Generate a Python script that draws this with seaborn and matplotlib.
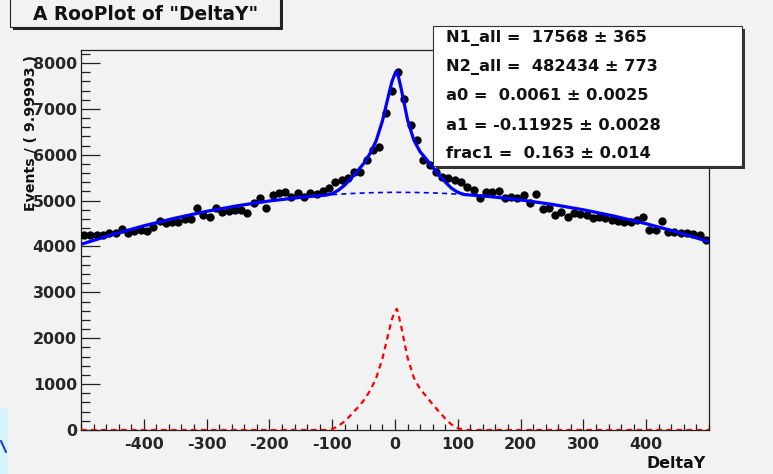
import numpy as np
import pandas as pd
import matplotlib
matplotlib.use("Agg")
import matplotlib.pyplot as plt
import seaborn as sns
from matplotlib.patches import Rectangle
from matplotlib.lines import Line2D
from matplotlib.ticker import MultipleLocator

# ---------------- data ----------------
bin_centers = list(range(-495, 500, 10))
events = [
    4250, 4250, 4260, 4240, 4290, 4300, 4380, 4290, 4340, 4350,
    4340, 4420, 4560, 4510, 4530, 4530, 4600, 4610, 4840, 4680,
    4650, 4830, 4760, 4770, 4790, 4800, 4740, 4940, 5050, 4840,
    5120, 5160, 5185, 5080, 5160, 5080, 5160, 5140, 5200, 5270,
    5400, 5450, 5490, 5620, 5620, 5880, 6100, 6170, 6900, 7400,
    7800, 7210, 6645, 6320, 5880, 5770, 5620, 5510, 5490, 5450,
    5400, 5290, 5230,
    5050, 5185, 5190, 5200, 5060, 5075, 5050, 5120, 4945, 5150,
    4815, 4840, 4680, 4750, 4640, 4730, 4700, 4690, 4620, 4650,
    4620, 4575, 4560, 4530, 4530, 4575, 4640, 4360, 4360, 4550,
    4310, 4310, 4290, 4290, 4270, 4250, 4140,
]

curve_x = [-500, -450, -400, -350, -300, -250, -200, -150, -110, -100, -90, -80,
           -70, -60, -50, -40, -30, -20, -10, -5, 0, 3, 6, 10, 20, 30, 40, 50,
           60, 70, 80, 90, 100, 110, 150, 200, 250, 300, 350, 400, 450, 500]
bkg_curve = [4048, 4260, 4451, 4619, 4766, 4890, 4992, 5072, 5120, 5130, 5139, 5147,
             5154, 5161, 5166, 5171, 5174, 5177, 5179, 5180, 5180, 5180, 5180, 5180, 5179, 5178, 5175, 5172,
             5168, 5162, 5156, 5149, 5141, 5133, 5089, 5015, 4918, 4800, 4659, 4496, 4311, 4104]
sig_curve = [0, 0, 0, 0, 0, 0, 0, 0, 0, 20, 90, 190,
             330, 480, 640, 850, 1130, 1560, 2130, 2410, 2590, 2640, 2490, 2250, 1580, 1140, 890, 730,
             560, 400, 250, 120, 40, 0, 0, 0, 0, 0, 0, 0, 0, 0]

x_ticks = [-400, -300, -200, -100, 0, 100, 200, 300, 400]
y_ticks = [0, 1000, 2000, 3000, 4000, 5000, 6000, 7000, 8000]

fit_lines = ["N1_all =  17568 \u00b1 365",
             "N2_all =  482434 \u00b1 773",
             "a0 =  0.0061 \u00b1 0.0025",
             "a1 = -0.11925 \u00b1 0.0028",
             "frac1 =  0.163 \u00b1 0.014"]

# ---------------- figure ----------------
W, H = 773, 474
BG = "#f2f2f2"

sns.set_theme(style="ticks")
plt.rcParams["font.family"] = ["DejaVu Sans"]

fig = plt.figure(figsize=(W / 100, H / 100), dpi=100, facecolor=BG)


def fx(px):
    return px / W


def fy(py):
    return 1 - py / H


ax = fig.add_axes([fx(81), fy(430), (709 - 81) / W, (430 - 50) / H])
ax.set_facecolor(BG)

df_pts = pd.DataFrame({"DeltaY": bin_centers, "Events": events})
df_c = pd.DataFrame({"DeltaY": curve_x, "bkg": bkg_curve, "sig": sig_curve})
df_c["total"] = df_c["bkg"] + df_c["sig"]

sns.scatterplot(data=df_pts, x="DeltaY", y="Events", color="black", s=36,
                edgecolor="black", linewidth=0, ax=ax, zorder=3, legend=False)
sns.lineplot(data=df_c, x="DeltaY", y="bkg", color="#0000ff", linewidth=1.2,
             linestyle=(0, (3, 2.5)), ax=ax, zorder=4)
sns.lineplot(data=df_c, x="DeltaY", y="sig", color="#ff0000", linewidth=1.6,
             linestyle=(0, (2.5, 2)), ax=ax, zorder=4)
sns.lineplot(data=df_c, x="DeltaY", y="total", color="#0000ff", linewidth=2.3,
             ax=ax, zorder=5)

ax.set_xlim(-500, 500)
ax.set_ylim(0, 8283)
ax.set_xlabel("")
ax.set_ylabel("")
ax.set_xticks(x_ticks)
ax.set_xticklabels([str(v) for v in x_ticks])
ax.set_yticks(y_ticks)
ax.set_yticklabels([str(v) for v in y_ticks])
ax.xaxis.set_minor_locator(MultipleLocator(20))
ax.yaxis.set_minor_locator(MultipleLocator(200))

for s in ax.spines.values():
    s.set_visible(True)
    s.set_color("#222222")
    s.set_linewidth(0.9)

ax.tick_params(axis="x", which="major", direction="in", length=8.2, width=0.9,
               pad=5, labelsize=11.4, top=False, color="#222222")
ax.tick_params(axis="x", which="minor", direction="in", length=4.1, width=0.9,
               top=False, color="#222222")
ax.tick_params(axis="y", which="major", direction="in", length=13.7, width=0.9,
               pad=3, labelsize=11.4, right=False, color="#222222")
ax.tick_params(axis="y", which="minor", direction="in", length=6.8, width=0.9,
               right=False, color="#222222")
for lab in ax.get_xticklabels() + ax.get_yticklabels():
    lab.set_fontweight("bold")

# axis titles (the y title overlaps the tick labels, as in the reference)
fig.text(fx(31), fy(55), "Events / ( 9.99993 )", rotation=90, ha="center", va="top",
         fontsize=10.2, fontweight="bold", color="#111111")
fig.text(fx(706), fy(463), "DeltaY", ha="right", va="center",
         fontsize=11.4, fontweight="bold", color="#111111")

# title box with shadow
fig.add_artist(Rectangle((fx(13), fy(30)), (283 - 13) / W, (30 + 5) / H,
                         transform=fig.transFigure, facecolor="#222222",
                         edgecolor="none", zorder=5))
fig.add_artist(Rectangle((fx(10), fy(27)), (280 - 10) / W, (27 + 8) / H,
                         transform=fig.transFigure, facecolor=BG,
                         edgecolor="#222222", linewidth=0.8, zorder=6))
fig.text(fx(146), fy(14), "A RooPlot of \"DeltaY\"", ha="center", va="center",
         fontsize=13.4, fontweight="bold", color="#111111", zorder=7)

# fit-parameter box with shadow
fig.add_artist(Rectangle((fx(436), fy(169)), (745 - 436) / W, (169 - 29) / H,
                         transform=fig.transFigure, facecolor="#333333",
                         edgecolor="none", zorder=5))
fig.add_artist(Rectangle((fx(433), fy(166)), (742 - 433) / W, (166 - 26) / H,
                         transform=fig.transFigure, facecolor="white",
                         edgecolor="#333333", linewidth=0.8, zorder=6))
for i, line in enumerate(fit_lines):
    fig.text(fx(446), fy(38 + 29 * i), line, ha="left", va="center",
             fontsize=11.7, fontweight="bold", color="#111111", zorder=7)

# small cyan artifact at the bottom-left corner
fig.add_artist(Rectangle((0, 0), fx(8), (474 - 408) / H, transform=fig.transFigure,
                         facecolor="#d4f5fb", edgecolor="none", zorder=5))
fig.add_artist(Line2D([fx(1), fx(6)], [fy(441), fy(452)], transform=fig.transFigure,
                      color="#1f3fd0", linewidth=1.5, zorder=6))

fig.savefig("out.png", dpi=100, facecolor=BG)
